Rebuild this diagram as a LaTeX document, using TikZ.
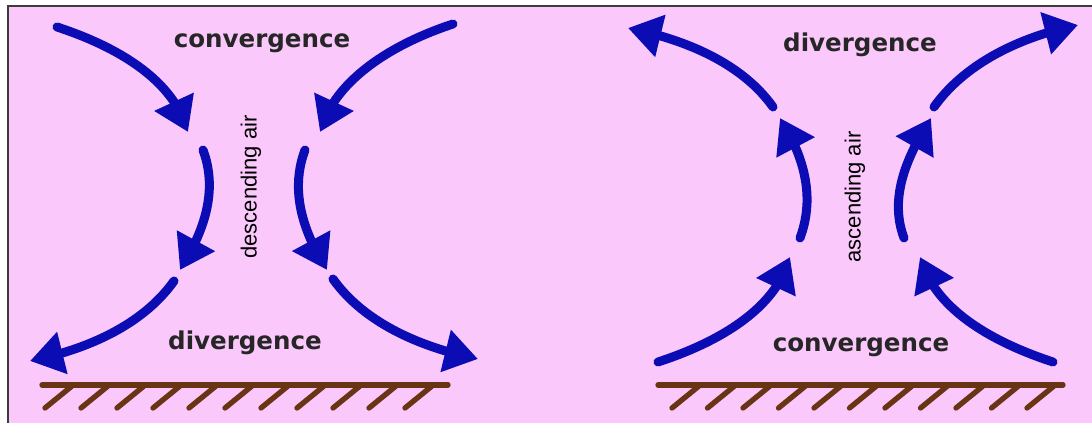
\documentclass[tikz,border=0pt]{standalone}
\usepackage{fontspec}
\usetikzlibrary{arrows.meta,bending}
\newfontfamily\labelfont{DejaVu Sans}
\newfontfamily\airfont{Liberation Sans}
\definecolor{skypink}{RGB}{250,200,250}
\definecolor{flowblue}{RGB}{12,12,180}
\definecolor{groundbrown}{RGB}{105,52,20}
\definecolor{framegray}{RGB}{60,60,60}
\tikzset{every picture/.style={line width=0.75pt}}
\tikzset{
  flow/.style={draw=flowblue, line width=6.75pt, line cap=round, -{Triangle[length=25pt,width=31pt,flex]}},
  zone/.style={font=\labelfont\bfseries\fontsize{18.4}{20}\selectfont, text=black!85, inner sep=0.75pt, anchor=base},
  airlabel/.style={font=\airfont\fontsize{16.5}{18}\selectfont, text=black, inner sep=0.75pt, rotate=90},
  ground/.style={draw=groundbrown, line width=4pt, line cap=round},
}
\begin{document}
\begin{tikzpicture}[x=0.75pt,y=0.75pt,yscale=-1,xscale=1]
		\useasboundingbox (0,0) rectangle (1092,423);
		
		%Background and frame
		\fill[white] (0,0) rectangle (1092,423);
		\fill[skypink] (8,6) rectangle (1092,423);
		\draw[framegray, line width=1.5pt] (8,423) -- (8,6) -- (1092,6);
		
		%Arrow ends, descending side
		\coordinate (d1s) at (57,27);   \coordinate (d1e) at (188,132);
		\coordinate (d2s) at (453,24);  \coordinate (d2e) at (320,132);
		\coordinate (d3s) at (203,150); \coordinate (d3e) at (180,270);
		\coordinate (d4s) at (305,150); \coordinate (d4e) at (327,270);
		\coordinate (d5s) at (174,281); \coordinate (d5e) at (30,361);
		\coordinate (d6s) at (333,279); \coordinate (d6e) at (478,359);
		%Arrow ends, ascending side
		\coordinate (a1s) at (658,362); \coordinate (a1e) at (790,257);
		\coordinate (a2s) at (1053,362);\coordinate (a2e) at (920,257);
		\coordinate (a3s) at (800,238); \coordinate (a3e) at (780,118);
		\coordinate (a4s) at (904,238); \coordinate (a4e) at (931,118);
		\coordinate (a5s) at (773,107); \coordinate (a5e) at (628,28);
		\coordinate (a6s) at (934,107); \coordinate (a6e) at (1078,25);
		
		%Curve Lines, descending air
		\draw[flow] (d1s) .. controls +(55,18) and +(-15,-55) .. (d1e);
		\draw[flow] (d2s) .. controls +(-55,18) and +(15,-55) .. (d2e);
		\draw[flow] (d3s) .. controls +(15,40) and +(25,-40) .. (d3e);
		\draw[flow] (d4s) .. controls +(-15,40) and +(-25,-40) .. (d4e);
		\draw[flow] (d5s) .. controls +(-32,45) and +(55,-11) .. (d5e);
		\draw[flow] (d6s) .. controls +(32,45) and +(-55,-11) .. (d6e);
		%Curve Lines, ascending air
		\draw[flow] (a1s) .. controls +(55,-18) and +(-15,55) .. (a1e);
		\draw[flow] (a2s) .. controls +(-55,-18) and +(15,55) .. (a2e);
		\draw[flow] (a3s) .. controls +(15,-40) and +(25,40) .. (a3e);
		\draw[flow] (a4s) .. controls +(-15,-40) and +(-25,40) .. (a4e);
		\draw[flow] (a5s) .. controls +(-32,-45) and +(55,11) .. (a5e);
		\draw[flow] (a6s) .. controls +(32,-45) and +(-55,11) .. (a6e);
		
		%Ground
		\draw[ground] (42,385) -- (448,385);
		\foreach \i in {0,...,10} \draw[ground] (45+36*\i,408) -- ++(27,-22);
		\draw[ground] (658,385) -- (1063,385);
		\foreach \i in {0,...,10} \draw[ground] (672+35.5*\i,408) -- ++(27,-22);
		
		% Text Node
		\node[zone] (convtop) at (262,48) {convergence};
		% Text Node
		\node[zone] (divbot) at (245,350) {divergence};
		% Text Node
		\node[airlabel] (descair) at (251,187) {descending air};
		% Text Node
		\node[zone] (divtop) at (860,52) {divergence};
		% Text Node
		\node[zone] (convbot) at (861,352) {convergence};
		% Text Node
		\node[airlabel] (ascair) at (855,197) {ascending air};
		
	\end{tikzpicture}
\end{document}
